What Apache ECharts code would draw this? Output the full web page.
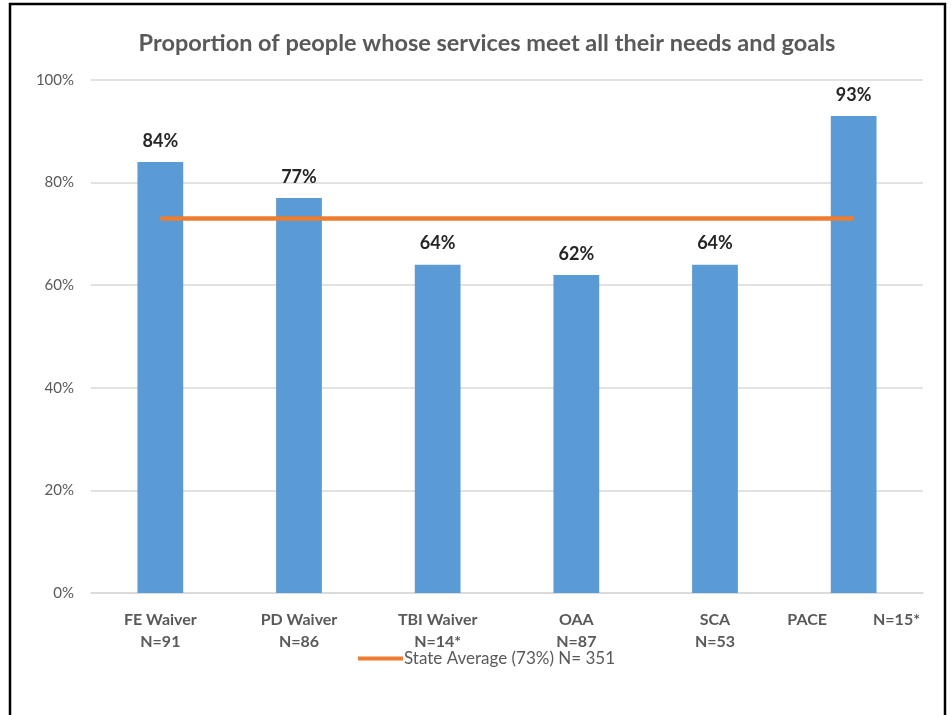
<!DOCTYPE html>
<html>
<head>
<meta charset="utf-8">
<script src="https://cdn.jsdelivr.net/npm/echarts@6/dist/echarts.min.js"></script>
<style>
  html, body { margin: 0; padding: 0; background: #fff; }
  #chart { width: 951px; height: 715px; }
</style>
</head>
<body>
<div id="chart"></div>
<script>
// Programs, their sample sizes and the share of people whose needs are met
const programs = ['FE Waiver', 'PD Waiver', 'TBI Waiver', 'OAA', 'SCA', 'PACE'];
const sampleSizes = ['N=91', 'N=86', 'N=14*', 'N=87', 'N=53', 'N=15*'];
const proportions = [84, 77, 64, 62, 64, 93];
const stateAverage = 73;
const stateN = 351;
const yTicks = [0, 20, 40, 60, 80, 100];

const FONT = 'Lato, "Open Sans", sans-serif';
const chart = echarts.init(document.getElementById('chart'));

chart.setOption({
  backgroundColor: '#fff',
  animation: false,
  title: {
    text: 'Proportion of people whose services meet all their needs and goals',
    left: 482, top: 26, textAlign: 'center',
    textStyle: { fontFamily: FONT, fontSize: 23.5, fontWeight: 'bold', color: '#595959' }
  },
  graphic: [{
    type: 'rect', shape: { x: 10, y: 4, width: 935, height: 760 },
    style: { fill: 'none', stroke: '#000', lineWidth: 2.5 }, silent: true
  }],
  legend: {
    bottom: 43, left: 353,
    itemWidth: 45, itemHeight: 4, itemGap: 10,
    textStyle: { fontFamily: FONT, fontSize: 17, color: '#595959', padding: [0, 0, 0, -4] },
    data: [{ name: 'State Average (' + stateAverage + '%) N= ' + stateN, icon: 'rect' }]
  },
  grid: { left: 91, right: 28, top: 80, bottom: 122, containLabel: false },
  xAxis: {
    type: 'category',
    data: programs,
    axisLine: { lineStyle: { color: '#D9D9D9', width: 1.5 } },
    axisTick: { show: false },
    axisLabel: {
      interval: 0, margin: 16, lineHeight: 22,
      fontFamily: FONT, fontSize: 16, fontWeight: 'bold', color: '#595959',
      formatter: function (v, i) {
        if (i === programs.length - 1) return v + '{gap|}' + sampleSizes[i];
        return v + '\n' + sampleSizes[i];
      },
      rich: { gap: { width: 46 } }
    }
  },
  yAxis: {
    type: 'value', min: yTicks[0], max: yTicks[yTicks.length - 1], interval: 20,
    axisLine: { show: false }, axisTick: { show: false },
    splitLine: { lineStyle: { color: '#D9D9D9', width: 1.5 } },
    axisLabel: { margin: 17, fontFamily: FONT, fontSize: 15, color: '#595959', formatter: '{value}%' }
  },
  series: [
    {
      type: 'bar', name: 'Proportion',
      data: proportions,
      barWidth: '33%',
      itemStyle: { color: '#5B9BD5' },
      label: {
        show: true, position: 'top', distance: 12,
        fontFamily: FONT, fontSize: 18, fontWeight: 'bold', color: '#262626',
        formatter: '{c}%'
      }
    },
    {
      type: 'line', name: 'State Average (' + stateAverage + '%) N= ' + stateN,
      data: programs.map(() => stateAverage),
      symbol: 'none',
      lineStyle: { color: '#ED7D31', width: 4.5 },
      itemStyle: { color: '#ED7D31' },
      z: 5
    }
  ]
});
</script>
</body>
</html>
